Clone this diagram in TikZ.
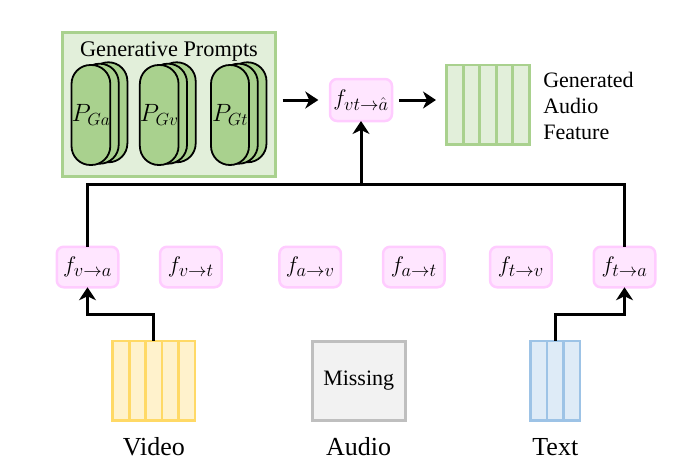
\RequirePackage{fix-cm}
\documentclass[tikz,border=0pt]{standalone}
\usepackage{fontspec}
\setmainfont{Liberation Serif}
\newfontfamily\tnr{Liberation Serif}
\usetikzlibrary{arrows.meta,calc}
\DeclareMathSizes{22.5}{22.5}{18.5}{14}
\definecolor{gfill}{HTML}{E2EFDA}
\definecolor{gline}{HTML}{A9D18E}
\definecolor{capfill}{HTML}{A9D18E}
\definecolor{pfill}{HTML}{FFE6FF}
\definecolor{pline}{HTML}{FFCCFF}
\definecolor{yfill}{HTML}{FFF2CC}
\definecolor{yline}{HTML}{FFD966}
\definecolor{bfill}{HTML}{DEEBF7}
\definecolor{bline}{HTML}{9DC3E6}
\definecolor{mfill}{HTML}{F2F2F2}
\definecolor{mline}{HTML}{BFBFBF}
\newcommand\fsMath{\fontsize{22.5}{27}\selectfont}
\newcommand\fsCap{\fontsize{25}{29}\selectfont}
\newcommand\fsTitle{\tnr\fontsize{22.3}{26}\selectfont}
\newcommand\fsLab{\tnr\fontsize{26}{30}\selectfont}
\newcommand\fsGen{\tnr\fontsize{22}{26.3}\selectfont}
\newcommand\fsMiss{\tnr\fontsize{22}{26}\selectfont}
\begin{document}
\begin{tikzpicture}[x=1pt,y=-1pt,
  every node/.style={outer sep=0pt},
  fbox/.style={draw=pline,fill=pfill,line width=2.5pt,rounded corners=7pt,
    minimum width=61.5pt,minimum height=40.5pt,inner sep=0pt,font=\fsMath},
  pbox/.style={draw=gline,fill=gfill,line width=3pt},
  capsule/.style={draw=black,fill=capfill,line width=1.8pt,rounded corners=18.9pt,
    minimum width=38pt,minimum height=100pt,inner sep=0pt,font=\fsCap},
  featbox/.style={draw=gline,fill=gfill,line width=2.7pt,minimum width=82.6pt,minimum height=79.3pt,inner sep=0pt},
  featline/.style={draw=gline,line width=2.7pt},
  vidbox/.style={draw=yline,fill=yfill,line width=2.7pt,minimum width=82.3pt,minimum height=79.3pt,inner sep=0pt},
  vidline/.style={draw=yline,line width=2.7pt},
  txtbox/.style={draw=bline,fill=bfill,line width=2.7pt,minimum width=49.3pt,minimum height=79.3pt,inner sep=0pt},
  txtline/.style={draw=bline,line width=2.7pt},
  missbox/.style={draw=mline,fill=mfill,line width=3pt,minimum width=92.7pt,minimum height=79pt,inner sep=0pt,font=\fsMiss},
  lab/.style={font=\fsLab,inner sep=0pt,anchor=base},
  conn/.style={line width=3pt},
  arr/.style={conn,-{Stealth[length=13pt,width=17pt,inset=4pt]}}
]
\useasboundingbox (0,0) rectangle (693,463);

% Generative prompts
\node[pbox,minimum width=212.3pt,minimum height=144pt] (prompts) at (168.85,104) {};
\node[font=\fsTitle,inner sep=0pt,anchor=base] (ptitle) at (169,56) {Generative Prompts};
\foreach \cx/\nm/\lab in {90.9/pga/Ga,159.2/pgv/Gv,230/pgt/Gt}{
  \draw[capsule] (\cx-1.5,62.3) rectangle ++(38,100);
  \draw[capsule] (\cx-10.2,63.7) rectangle ++(38,100);
  \node[capsule] (\nm) at (\cx,115) {$P_{\lab}$};
}

% fusion node and generated feature
\node[fbox,minimum width=62pt,minimum height=42pt] (fvta) at (361,100) {$f_{vt\to\hat{a}}$};
\node[featbox] (feat) at (488,104.65) {};
\foreach \i in {1,...,4}
  \draw[featline] ($(feat.north west)+(\i*16.52,0)$) -- ($(feat.south west)+(\i*16.52,0)$);
\node[font=\fsGen,align=left,anchor=west,inner sep=0pt] (featlab) at (543.3,106) {Generated\\Audio\\Feature};

% translation nodes
\node[fbox] (fva) at (87.5,267) {$f_{v\to a}$};
\node[fbox] (fvt) at (190.8,267) {$f_{v\to t}$};
\node[fbox] (fav) at (310.2,267) {$f_{a\to v}$};
\node[fbox] (fat) at (413.8,267) {$f_{a\to t}$};
\node[fbox] (ftv) at (520.8,267) {$f_{t\to v}$};
\node[fbox] (fta) at (624.5,267) {$f_{t\to a}$};

% modalities
\node[vidbox] (video) at (153.9,380.5) {};
\foreach \i in {1,...,4}
  \draw[vidline] ($(video.north west)+(\i*16.46,0)$) -- ($(video.south west)+(\i*16.46,0)$);
\node[missbox] (audio) at (358.7,380.5) {Missing};
\node[txtbox] (text) at (555.3,380.5) {};
\foreach \i in {1,2}
  \draw[txtline] ($(text.north west)+(\i*16.43,0)$) -- ($(text.south west)+(\i*16.43,0)$);
\node[lab] (vlab) at (153.9,455) {Video};
\node[lab] (alab) at (358.5,455) {Audio};
\node[lab] (tlab) at (555.3,455) {Text};

% connectors
\coordinate (bus) at (0,184);
\coordinate (low) at (0,314);
\draw[arr,shorten <=7.7pt,shorten >=11.7pt] (prompts.east |- fvta.west) -- (fvta.west);
\draw[arr,shorten <=7.3pt,shorten >=10.7pt] (fvta.east) -- (feat.west |- fvta.east);
\draw[conn] (fva.north) -- (fva.north |- bus) -- (fta.north |- bus) -- (fta.north);
\draw[arr] (fvta.south |- bus) -- (fvta.south);
\draw[arr] (video.north) -- (video.north |- low) -| (fva.south);
\draw[arr] (text.north) -- (text.north |- low) -| (fta.south);
\end{tikzpicture}
\end{document}
